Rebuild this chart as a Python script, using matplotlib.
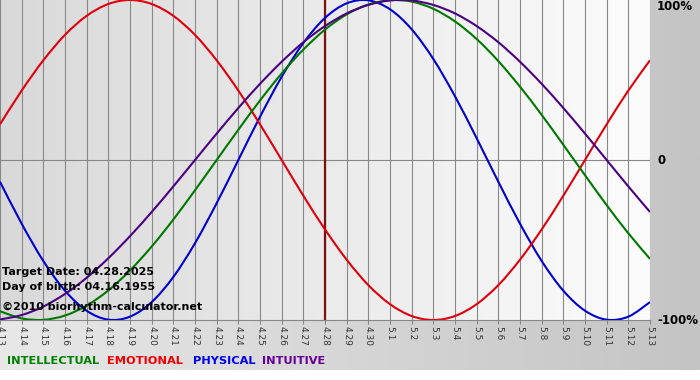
import numpy as np
import matplotlib
matplotlib.use('Agg')
import matplotlib.pyplot as plt
from matplotlib.colors import LinearSegmentedColormap
from matplotlib.path import Path
from matplotlib.patches import PathPatch

# 日期标签 (4.13 - 5.13)
day_labels = ['4.13', '4.14', '4.15', '4.16', '4.17', '4.18', '4.19', '4.20',
              '4.21', '4.22', '4.23', '4.24', '4.25', '4.26', '4.27', '4.28',
              '4.29', '4.30', '5.1', '5.2', '5.3', '5.4', '5.5', '5.6', '5.7',
              '5.8', '5.9', '5.10', '5.11', '5.12', '5.13']
target_day = '4.28'

# 各周期每日数值
physical = [-0.136, -0.398, -0.631, -0.817, -0.942, -0.998, -0.979, -0.888, -0.731, -0.520,
            -0.270, 0.000, 0.270, 0.520, 0.731, 0.888, 0.979, 0.998, 0.942, 0.817,
            0.631, 0.398, 0.136, -0.136, -0.398, -0.631, -0.817, -0.942, -0.998, -0.979, -0.888]
emotional = [0.223, 0.434, 0.623, 0.782, 0.901, 0.975, 1.000, 0.975, 0.901, 0.782,
             0.623, 0.434, 0.223, 0.000, -0.223, -0.434, -0.623, -0.782, -0.901, -0.975,
             -1.000, -0.975, -0.901, -0.782, -0.623, -0.434, -0.223, 0.000, 0.223, 0.434, 0.623]
intellectual = [-0.945, -0.990, -0.999, -0.972, -0.910, -0.815, -0.690, -0.541, -0.372, -0.189,
                0.000, 0.189, 0.372, 0.541, 0.690, 0.815, 0.910, 0.972, 0.999, 0.990,
                0.945, 0.866, 0.756, 0.618, 0.458, 0.282, 0.095, -0.095, -0.282, -0.458, -0.618]
intuitive = [-0.997, -0.969, -0.916, -0.837, -0.736, -0.614, -0.476, -0.325, -0.165, 0.000,
             0.165, 0.325, 0.476, 0.614, 0.736, 0.837, 0.916, 0.969, 0.997, 0.997,
             0.969, 0.916, 0.837, 0.736, 0.614, 0.476, 0.325, 0.165, 0.000, -0.165, -0.325]

W, H = 700, 380
fig = plt.figure(figsize=(W / 100, H / 100), dpi=100)
fig.patch.set_facecolor('white')

# 外框灰色渐变背景
bg = fig.add_axes([0, 10 / H, 1, 1 - 10 / H])
bg_cmap = LinearSegmentedColormap.from_list('bg', ['#e8e8e8', '#c4c4c4'])
bg.imshow(np.linspace(0, 1, 256).reshape(1, -1), cmap=bg_cmap, aspect='auto',
          extent=[0, 1, 0, 1])
bg.set_axis_off()

# 主图区
ax = fig.add_axes([0, 60 / H, 650 / W, 320 / H])
x = np.arange(len(day_labels))
plot_cmap = LinearSegmentedColormap.from_list('plot', ['#d9d9d9', '#fcfcfc'])
ax.imshow(np.linspace(0, 1, 256).reshape(1, -1), cmap=plot_cmap, aspect='auto',
          extent=[x[0], x[-1], -1.0, 1.0], zorder=0)

# 网格
for xi in x:
    ax.axvline(xi, color='#888888', lw=0.8, zorder=1)
ax.axhline(0, color='#888888', lw=0.8, zorder=1)

# 目标日期线
ax.axvline(day_labels.index(target_day), color='#7a1010', lw=1.6, zorder=2)


def smooth_line(ax, xs, ys, color):
    # 用三次贝塞尔曲线平滑连接各点 (Catmull-Rom)
    p = np.column_stack([xs, ys]).astype(float)
    p_ext = np.vstack([p[0], p, p[-1]])
    verts = [p[0]]
    codes = [Path.MOVETO]
    for i in range(len(p) - 1):
        p0, p1, p2, p3 = p_ext[i], p_ext[i + 1], p_ext[i + 2], p_ext[i + 3]
        verts += [p1 + (p2 - p0) / 6, p2 - (p3 - p1) / 6, p2]
        codes += [Path.CURVE4] * 3
    ax.add_patch(PathPatch(Path(verts, codes), facecolor='none',
                           edgecolor=color, lw=1.5, zorder=3))


smooth_line(ax, x, physical, '#0000d0')
smooth_line(ax, x, emotional, '#e0000c')
smooth_line(ax, x, intellectual, '#007800')
smooth_line(ax, x, intuitive, '#4b0082')

ax.set_xlim(x[0], x[-1])
ax.set_ylim(-1.0, 1.0)
ax.set_xticks(x)
ax.set_xticklabels(day_labels, rotation=-90, fontsize=6.5, color='#333333')
ax.tick_params(axis='x', length=3, width=0.8, color='#888888', pad=1)
ax.set_yticks([])
for s in ['top', 'left', 'right']:
    ax.spines[s].set_visible(False)
ax.spines['bottom'].set_color('#888888')
ax.spines['bottom'].set_linewidth(0.8)

# 文字
def px(xp, yp):
    return xp / W, 1 - yp / H

fig.text(*px(2, 272), 'Target Date: 04.28.2025', fontsize=8, weight='bold',
         va='center', ha='left', zorder=5)
fig.text(*px(2, 287), 'Day of birth: 04.16.1955', fontsize=8, weight='bold',
         va='center', ha='left', zorder=5)
fig.text(*px(2, 307), '\u00a92010 biorhythm-calculator.net', fontsize=8,
         weight='bold', va='center', ha='left', zorder=5)

fig.text(*px(657, 7), '100%', fontsize=8.5, weight='bold', va='center', ha='left')
fig.text(*px(657, 161), '0', fontsize=8.5, weight='bold', va='center', ha='left')
fig.text(*px(657, 321), '-100%', fontsize=8.5, weight='bold', va='center', ha='left')

legend_items = [('INTELLECTUAL', '#008000', 7), ('EMOTIONAL', '#f00000', 107),
                ('PHYSICAL', '#0000f0', 193), ('INTUITIVE', '#660099', 262)]
for name, c, xp in legend_items:
    fig.text(*px(xp, 361), name, fontsize=8.2, weight='bold', color=c,
             va='center', ha='left')

fig.savefig('out.png', dpi=100)
